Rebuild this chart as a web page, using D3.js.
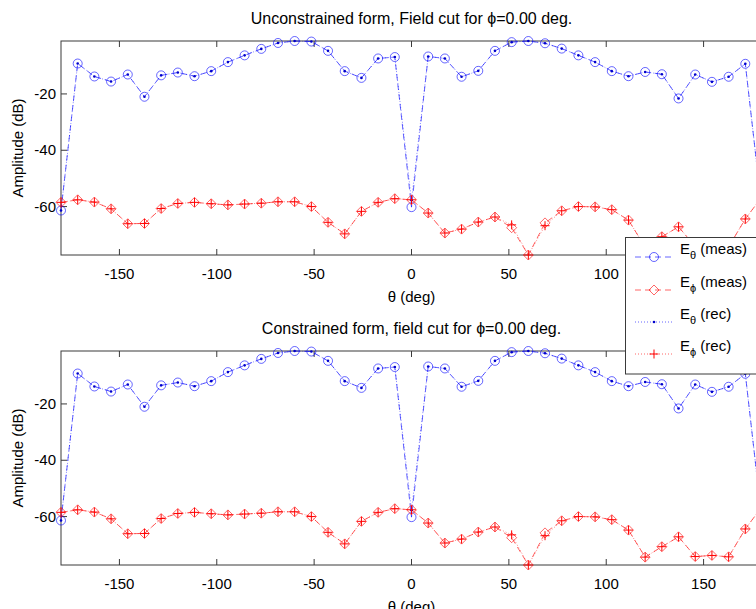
<!DOCTYPE html>
<html>
<head>
<meta charset="utf-8">
<script src="https://cdn.jsdelivr.net/npm/d3@7"></script>
<style>
  body { margin: 0; background: #fff; }
  svg { display: block; font-family: "Liberation Sans", Arial, sans-serif; }
</style>
</head>
<body>
<svg id="chart" width="756" height="609"></svg>
<script>
// theta samples (deg)
const theta = [-180, -171.43, -162.86, -154.29, -145.71, -137.14, -128.57, -120, -111.43, -102.86,
  -94.29, -85.71, -77.14, -68.57, -60, -51.43, -42.86, -34.29, -25.71, -17.14, -8.57, 0,
  8.57, 17.14, 25.71, 34.29, 42.86, 51.43, 60, 68.57, 77.14, 85.71, 94.29, 102.86, 111.43,
  120, 128.57, 137.14, 145.71, 154.29, 162.86, 171.43, 180];

// E_theta measured / reconstructed (dB)
const eThetaMeas = [-61.4, -9.2, -13.8, -15.6, -13.1, -21.0, -13.4, -12.4, -13.7, -11.9, -8.7, -6.3,
  -4.0, -1.9, -1.2, -1.4, -4.7, -11.9, -14.3, -7.4, -6.9, -60.2, -6.7, -7.4, -13.9, -11.8, -4.7,
  -1.6, -1.2, -2.0, -3.9, -6.3, -8.7, -11.9, -13.7, -12.2, -13.0, -21.6, -13.1, -15.7, -13.9, -9.3, -61.4];
const eThetaRec = [-61.4, -9.2, -13.8, -15.6, -13.1, -21.0, -13.4, -12.4, -13.7, -11.9, -8.7, -6.3,
  -4.0, -1.9, -1.2, -1.4, -4.7, -11.9, -14.3, -7.4, -6.9, -57.8, -6.7, -7.4, -13.9, -11.8, -4.7,
  -1.6, -1.2, -2.0, -3.9, -6.3, -8.7, -11.9, -13.7, -12.2, -13.0, -21.6, -13.1, -15.7, -13.9, -9.3, -61.4];

// E_phi measured / reconstructed (dB)
const ePhiMeas = [-58.5, -57.6, -58.4, -60.8, -66.1, -66.0, -60.7, -58.9, -58.5, -59.0, -59.4, -59.1,
  -58.8, -58.3, -58.3, -60.0, -65.6, -69.7, -61.7, -58.5, -57.2, -57.6, -62.3, -69.4, -68.0, -65.5,
  -63.7, -67.5, -77.2, -65.8, -61.5, -60.0, -60.1, -61.1, -64.8, -74.4, -70.7, -67.2, -74.2, -73.8,
  -74.3, -64.4, -56.5];
const ePhiRec = [-58.5, -57.6, -58.4, -60.8, -66.1, -66.0, -60.7, -58.9, -58.5, -59.0, -59.4, -59.1,
  -58.8, -58.3, -58.3, -60.0, -65.6, -69.7, -61.7, -58.5, -57.2, -57.6, -62.3, -69.4, -68.0, -65.5,
  -63.7, -66.5, -77.2, -66.8, -61.5, -60.0, -60.1, -61.1, -64.8, -74.4, -70.7, -67.2, -74.2, -73.8,
  -74.3, -64.4, -56.5];

const xTicks = [-150, -100, -50, 0, 50, 100, 150];
const yTicks = [-60, -40, -20];
const titles = ['Unconstrained form, Field cut for \u03d5=0.00 deg.',
                'Constrained form, field cut for \u03d5=0.00 deg.'];
const legendLabels = [['E', '\u03b8', ' (meas)'], ['E', '\u03d5', ' (meas)'],
                      ['E', '\u03b8', ' (rec)'], ['E', '\u03d5', ' (rec)']];

const svg = d3.select('#chart');
const axisColor = '#3a3a3a';
const blue = '#0000ff', red = '#ff0000';

const x = d3.scaleLinear().domain([-180, 180]).range([61, 762]);

const panels = [{ top: 41, bottom: 255 }, { top: 351, bottom: 565 }];

function diamond(g, cx, cy, color) {
  g.append('path')
    .attr('d', `M${cx},${cy - 5}L${cx + 5},${cy}L${cx},${cy + 5}L${cx - 5},${cy}Z`)
    .attr('fill', 'none').attr('stroke', color).attr('stroke-width', 1).attr('opacity', 0.6);
}
function plus(g, cx, cy, color) {
  g.append('path')
    .attr('d', `M${cx - 4.5},${cy}H${cx + 4.5}M${cx},${cy - 4.5}V${cy + 4.5}`)
    .attr('stroke', color).attr('stroke-width', 1);
}

panels.forEach((p, i) => {
  const y = d3.scaleLinear().domain([-77.2, -1.2]).range([p.bottom, p.top]);
  const g = svg.append('g');

  // axes box
  g.append('rect')
    .attr('x', x(-180)).attr('y', p.top)
    .attr('width', x(180) - x(-180)).attr('height', p.bottom - p.top)
    .attr('fill', 'none').attr('stroke', axisColor).attr('stroke-width', 1);

  // ticks (inside, on all sides)
  xTicks.forEach(t => {
    g.append('line').attr('x1', x(t)).attr('x2', x(t)).attr('y1', p.bottom).attr('y2', p.bottom - 6)
      .attr('stroke', axisColor);
    g.append('line').attr('x1', x(t)).attr('x2', x(t)).attr('y1', p.top).attr('y2', p.top + 6)
      .attr('stroke', axisColor);
    g.append('text').attr('x', x(t)).attr('y', p.bottom + 24)
      .attr('text-anchor', 'middle').attr('font-size', 15).text(t);
  });
  yTicks.forEach(t => {
    g.append('line').attr('x1', x(-180)).attr('x2', x(-180) + 6).attr('y1', y(t)).attr('y2', y(t))
      .attr('stroke', axisColor);
    g.append('line').attr('x1', x(180)).attr('x2', x(180) - 6).attr('y1', y(t)).attr('y2', y(t))
      .attr('stroke', axisColor);
    g.append('text').attr('x', x(-180) - 5).attr('y', y(t) + 5)
      .attr('text-anchor', 'end').attr('font-size', 15).text(t);
  });

  // labels
  g.append('text').attr('x', x(0)).attr('y', p.top - 17)
    .attr('text-anchor', 'middle').attr('font-size', 16).text(titles[i]);
  g.append('text').attr('x', x(0)).attr('y', p.bottom + 47)
    .attr('text-anchor', 'middle').attr('font-size', 15).text('\u03b8 (deg)');
  g.append('text')
    .attr('transform', `translate(23,${(p.top + p.bottom) / 2}) rotate(-90)`)
    .attr('text-anchor', 'middle').attr('font-size', 15).text('Amplitude (dB)');

  const line = vals => d3.line().x((d, j) => x(theta[j])).y(d => y(d))(vals);

  // lines
  g.append('path').attr('d', line(eThetaMeas)).attr('fill', 'none')
    .attr('stroke', blue).attr('stroke-width', 0.8).attr('stroke-dasharray', '6,4').attr('opacity', 0.75);
  g.append('path').attr('d', line(eThetaRec)).attr('fill', 'none')
    .attr('stroke', blue).attr('stroke-width', 0.8).attr('stroke-dasharray', '1,2').attr('opacity', 0.6);
  g.append('path').attr('d', line(ePhiMeas)).attr('fill', 'none')
    .attr('stroke', red).attr('stroke-width', 0.8).attr('stroke-dasharray', '6,4').attr('opacity', 0.75);
  g.append('path').attr('d', line(ePhiRec)).attr('fill', 'none')
    .attr('stroke', red).attr('stroke-width', 0.8).attr('stroke-dasharray', '1,2').attr('opacity', 0.6);

  // markers
  eThetaMeas.forEach((d, j) => {
    g.append('circle').attr('cx', x(theta[j])).attr('cy', y(d)).attr('r', 4.5)
      .attr('fill', 'none').attr('stroke', blue).attr('stroke-width', 1).attr('opacity', 0.6);
  });
  ePhiMeas.forEach((d, j) => diamond(g, x(theta[j]), y(d), red));
  eThetaRec.forEach((d, j) => {
    g.append('circle').attr('cx', x(theta[j])).attr('cy', y(d)).attr('r', 1.3).attr('fill', '#0000cc');
  });
  ePhiRec.forEach((d, j) => plus(g, x(theta[j]), y(d), red));
});

// legend
const leg = svg.append('g');
leg.append('rect').attr('x', 625.5).attr('y', 237.5).attr('width', 160).attr('height', 136.5)
  .attr('fill', '#fff').attr('stroke', axisColor).attr('stroke-width', 1);
const rowY = [257, 290, 322, 354];
const legStyles = [
  { color: blue, dash: '6,4', marker: 'circle' },
  { color: red, dash: '6,4', marker: 'diamond' },
  { color: blue, dash: '1,2', marker: 'dot' },
  { color: red, dash: '1,2', marker: 'plus' }
];
legStyles.forEach((s, i) => {
  const yy = rowY[i];
  leg.append('line').attr('x1', 635).attr('x2', 673).attr('y1', yy).attr('y2', yy)
    .attr('stroke', s.color).attr('stroke-width', 0.8).attr('stroke-dasharray', s.dash).attr('opacity', 0.75);
  if (s.marker === 'circle') {
    leg.append('circle').attr('cx', 654).attr('cy', yy).attr('r', 4.5)
      .attr('fill', 'none').attr('stroke', s.color).attr('opacity', 0.6);
  } else if (s.marker === 'diamond') {
    diamond(leg, 654, yy, s.color);
  } else if (s.marker === 'dot') {
    leg.append('circle').attr('cx', 654).attr('cy', yy).attr('r', 1.3).attr('fill', '#0000cc');
  } else {
    plus(leg, 654, yy, s.color);
  }
  const t = leg.append('text').attr('x', 680).attr('y', yy - 3).attr('font-size', 15);
  t.append('tspan').text(legendLabels[i][0]);
  t.append('tspan').attr('dy', 5).attr('font-size', 11).text(legendLabels[i][1]);
  t.append('tspan').attr('dy', -5).text(legendLabels[i][2]);
});
</script>
</body>
</html>
